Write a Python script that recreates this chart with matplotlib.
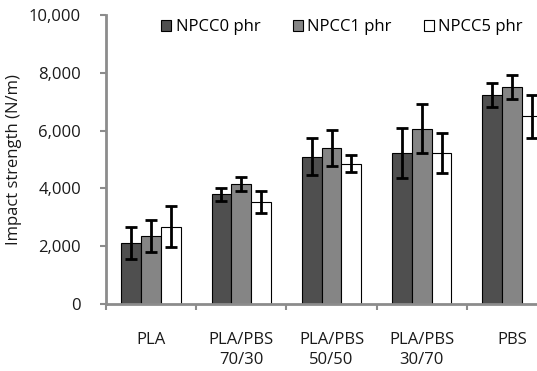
import numpy as np
import matplotlib
matplotlib.use('Agg')
import matplotlib.pyplot as plt
from matplotlib.ticker import FuncFormatter

plt.rcParams['font.family'] = ['Open Sans', 'DejaVu Sans']

categories = ['PLA', 'PLA/PBS\n70/30', 'PLA/PBS\n50/50', 'PLA/PBS\n30/70', 'PBS']
series = ['NPCC0 phr', 'NPCC1 phr', 'NPCC5 phr']
npcc0 = [2100, 3800, 5100, 5220, 7220]
npcc1 = [2360, 4150, 5400, 6060, 7520]
npcc5 = [2680, 3540, 4860, 5220, 6500]
err0 = [560, 220, 630, 860, 410]
err1 = [550, 240, 630, 850, 410]
err5 = [700, 380, 300, 690, 740]
colors = ['#4f4f4f', '#858585', '#ffffff']

fig = plt.figure(figsize=(5.37, 3.71), dpi=100)
ax = fig.add_axes([106/537, 67/371, 451/537, 289/371])

x = np.arange(len(categories))
w = 0.22
for i, (vals, errs) in enumerate(zip([npcc0, npcc1, npcc5], [err0, err1, err5])):
    ax.bar(x + (i - 1) * w, vals, w, color=colors[i], edgecolor='black',
           linewidth=0.8, label=series[i], zorder=2)
    ax.errorbar(x + (i - 1) * w, vals, yerr=errs, fmt='none', ecolor='black',
                elinewidth=2, capsize=4, capthick=2, zorder=3)

ax.set_xlim(-0.5, len(categories) - 0.5)
ax.set_ylim(0, 10000)
ax.set_yticks(np.arange(0, 10001, 2000))
ax.yaxis.set_major_formatter(FuncFormatter(lambda v, p: f'{int(v):,}'))
ax.set_xticks(x)
ax.set_xticklabels(categories, fontsize=12, color='#1a1a1a', linespacing=1.35)
ax.set_xticks(np.arange(-0.5, len(categories), 1), minor=True)
ax.tick_params(axis='x', which='major', length=0, pad=20)
ax.tick_params(axis='x', which='minor', length=4, width=1.5, color='#8c8c8c')
ax.tick_params(axis='y', length=4, width=1.5, color='#8c8c8c', labelsize=12,
               labelcolor='#1a1a1a', pad=14)
for s in ['top', 'right']:
    ax.spines[s].set_visible(False)
for s in ['left', 'bottom']:
    ax.spines[s].set_color('#8c8c8c')
    ax.spines[s].set_linewidth(2)

ax.set_ylabel('Impact strength (N/m)', fontsize=12, color='#1a1a1a', labelpad=5)

fig.legend(loc='upper left', bbox_to_anchor=(153/537, 1 - 11/371), ncol=3,
           frameon=False, fontsize=12, handlelength=0.6, handleheight=0.6,
           handletextpad=0.25, columnspacing=1.95, borderpad=0)

plt.savefig('out.png', dpi=100)
print("done")
